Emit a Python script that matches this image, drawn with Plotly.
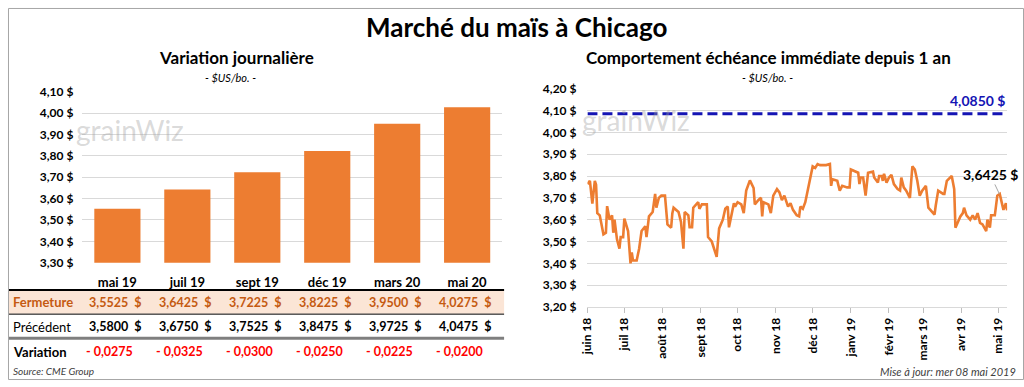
import plotly.graph_objects as go

W, H = 1024, 387
FONT = "Lato, 'Liberation Sans', sans-serif"

# ---------------- data ----------------
contracts = ["mai 19", "juil 19", "sept 19", "déc 19", "mars 20", "mai 20"]
fermeture = [3.5525, 3.6425, 3.7225, 3.8225, 3.9500, 4.0275]
precedent = [3.5800, 3.6750, 3.7525, 3.8475, 3.9725, 4.0475]
variation = [-0.0275, -0.0325, -0.0300, -0.0250, -0.0225, -0.0200]

hist_dates = [
    "2018-06-01", "2018-06-03", "2018-06-05", "2018-06-07", "2018-06-08", "2018-06-09", "2018-06-11",
    "2018-06-14", "2018-06-16", "2018-06-17", "2018-06-19", "2018-06-21", "2018-06-22", "2018-06-23",
    "2018-06-25", "2018-06-27", "2018-06-28", "2018-06-30", "2018-07-01", "2018-07-04", "2018-07-06",
    "2018-07-07", "2018-07-08", "2018-07-11", "2018-07-13", "2018-07-15", "2018-07-18", "2018-07-19",
    "2018-07-21", "2018-07-24", "2018-07-26", "2018-07-27", "2018-07-29", "2018-07-31", "2018-08-03",
    "2018-08-05", "2018-08-08", "2018-08-09", "2018-08-10", "2018-08-14", "2018-08-16", "2018-08-18",
    "2018-08-19", "2018-08-22", "2018-08-23", "2018-08-25", "2018-08-26", "2018-08-30", "2018-08-31",
    "2018-09-02", "2018-09-06", "2018-09-07", "2018-09-10", "2018-09-12", "2018-09-14", "2018-09-16",
    "2018-09-19", "2018-09-21", "2018-09-23", "2018-09-24", "2018-09-26", "2018-09-28", "2018-09-29",
    "2018-10-01", "2018-10-04", "2018-10-06", "2018-10-08", "2018-10-11", "2018-10-14", "2018-10-15",
    "2018-10-18", "2018-10-20", "2018-10-21", "2018-10-22", "2018-10-26", "2018-10-28", "2018-10-30",
    "2018-11-02", "2018-11-04", "2018-11-06", "2018-11-08", "2018-11-10", "2018-11-11", "2018-11-13",
    "2018-11-15", "2018-11-18", "2018-11-20", "2018-11-21", "2018-11-23", "2018-11-25", "2018-11-27",
    "2018-11-29", "2018-12-01", "2018-12-03", "2018-12-05", "2018-12-07", "2018-12-09", "2018-12-12",
    "2018-12-15", "2018-12-16", "2018-12-17", "2018-12-21", "2018-12-23", "2018-12-25", "2018-12-29",
    "2018-12-31", "2019-01-01", "2019-01-04", "2019-01-07", "2019-01-08", "2019-01-09", "2019-01-11",
    "2019-01-13", "2019-01-15", "2019-01-19", "2019-01-20", "2019-01-23", "2019-01-24", "2019-01-26",
    "2019-01-27", "2019-01-28", "2019-01-30", "2019-02-01", "2019-02-03", "2019-02-05", "2019-02-08",
    "2019-02-10", "2019-02-11", "2019-02-13", "2019-02-15", "2019-02-18", "2019-02-20", "2019-02-22",
    "2019-02-24", "2019-02-26", "2019-02-28", "2019-03-03", "2019-03-05", "2019-03-07", "2019-03-10",
    "2019-03-11", "2019-03-13", "2019-03-17", "2019-03-18", "2019-03-20", "2019-03-24", "2019-03-26",
    "2019-03-27", "2019-03-31", "2019-04-02", "2019-04-03", "2019-04-05", "2019-04-08", "2019-04-10",
    "2019-04-12", "2019-04-14", "2019-04-16", "2019-04-18", "2019-04-21", "2019-04-22", "2019-04-24",
    "2019-04-25", "2019-04-28", "2019-04-30", "2019-05-02", "2019-05-04", "2019-05-05", "2019-05-07",
    "2019-05-08",
]
hist_values = [
    3.763, 3.778, 3.674, 3.778, 3.760, 3.630, 3.620,
    3.533, 3.540, 3.662, 3.600, 3.620, 3.540, 3.600,
    3.510, 3.467, 3.520, 3.520, 3.605, 3.548, 3.400,
    3.450, 3.413, 3.413, 3.467, 3.548, 3.570, 3.520,
    3.615, 3.635, 3.718, 3.655, 3.700, 3.710, 3.710,
    3.578, 3.563, 3.630, 3.655, 3.635, 3.590, 3.467,
    3.635, 3.620, 3.565, 3.565, 3.655, 3.680, 3.650,
    3.670, 3.670, 3.520, 3.500, 3.465, 3.430, 3.560,
    3.600, 3.650, 3.660, 3.565, 3.630, 3.675, 3.660,
    3.680, 3.670, 3.630, 3.733, 3.780, 3.745, 3.670,
    3.690, 3.700, 3.615, 3.680, 3.670, 3.630, 3.710,
    3.740, 3.725, 3.690, 3.710, 3.670, 3.660, 3.675,
    3.645, 3.620, 3.615, 3.660, 3.650, 3.680, 3.733,
    3.793, 3.844, 3.837, 3.855, 3.850, 3.850, 3.850,
    3.855, 3.755, 3.785, 3.778, 3.733, 3.755, 3.748,
    3.748, 3.830, 3.822, 3.815, 3.763, 3.793, 3.793,
    3.710, 3.815, 3.820, 3.793, 3.770, 3.800, 3.800,
    3.778, 3.810, 3.770, 3.793, 3.805, 3.763, 3.740,
    3.733, 3.793, 3.748, 3.733, 3.700, 3.844, 3.830,
    3.778, 3.710, 3.733, 3.755, 3.655, 3.640, 3.623,
    3.665, 3.733, 3.718, 3.718, 3.778, 3.800, 3.740,
    3.563, 3.615, 3.630, 3.655, 3.620, 3.600, 3.620,
    3.600, 3.630, 3.585, 3.578, 3.548, 3.600, 3.563,
    3.620, 3.620, 3.710, 3.718, 3.665, 3.645, 3.675,
    3.6425,
]
target_price = 4.0850

month_ticks = ["2018-06-01", "2018-07-01", "2018-08-01", "2018-09-01", "2018-10-01", "2018-11-01",
               "2018-12-01", "2019-01-01", "2019-02-01", "2019-03-01", "2019-04-01", "2019-05-01"]
month_labels = ["juin 18", "juil 18", "août 18", "sept 18", "oct 18", "nov 18",
                "déc 18", "janv 19", "févr 19", "mars 19", "avr 19", "mai 19"]

ORANGE = "#ED7D31"
DARK_ORANGE = "#C55A11"
BLUE = "#1414B4"
GRID = "#D9D9D9"


def px(x):
    return x / W


def py(y):
    return 1 - y / H


def fr(v):
    return f"{v:.4f}".replace(".", ",")


fig = go.Figure()

fig.add_trace(go.Bar(x=contracts, y=fermeture, marker=dict(color=ORANGE, line=dict(width=0)),
                     xaxis="x", yaxis="y", showlegend=False, hoverinfo="skip"))

fig.add_trace(go.Scatter(x=hist_dates, y=hist_values, mode="lines",
                         line=dict(color=ORANGE, width=2.6), xaxis="x2", yaxis="y2",
                         showlegend=False, hoverinfo="skip"))

fig.add_trace(go.Scatter(x=[hist_dates[0], hist_dates[-1]], y=[target_price, target_price], mode="lines",
                         line=dict(color=BLUE, width=3, dash="10px,5px"), xaxis="x2", yaxis="y2",
                         showlegend=False, hoverinfo="skip"))

tickfont = dict(family=FONT, size=12, color="#000000", weight="bold")

fig.update_layout(
    width=W, height=H, margin=dict(l=0, r=0, t=0, b=0),
    paper_bgcolor="white", plot_bgcolor="white",
    separators=", ",
    bargap=0.34,
    font=dict(family=FONT, color="#000000"),
    xaxis=dict(domain=[px(75), px(498)], type="category", showgrid=False, zeroline=False,
               showline=False, ticks="", tickfont=dict(family=FONT, size=13, color="#000000", weight="bold"),
               ticklabelstandoff=10, fixedrange=True),
    yaxis=dict(domain=[py(265), py(87)], range=[3.30, 4.10], dtick=0.1, tickformat=".2f",
               ticksuffix=" $", showgrid=True, gridcolor=GRID, gridwidth=1, zeroline=False,
               tickfont=tickfont, ticklabelstandoff=8, fixedrange=True),
    xaxis2=dict(domain=[px(584), px(1007)], type="date", range=["2018-06-01", "2019-05-08"],
                tickvals=month_ticks, ticktext=month_labels, tickangle=-90, showgrid=False,
                showline=True, linecolor=GRID, linewidth=1, ticks="outside", ticklen=5,
                tickcolor="#BFBFBF", tickfont=tickfont, anchor="y2", fixedrange=True),
    yaxis2=dict(domain=[py(311), py(84)], range=[3.20, 4.20], dtick=0.1, tickformat=".2f",
                ticksuffix=" $", showgrid=True, gridcolor=GRID, gridwidth=1, zeroline=False,
                tickfont=tickfont, ticklabelstandoff=10, anchor="x2", fixedrange=True),
)

shapes = []
# outer border
shapes.append(dict(type="rect", xref="paper", yref="paper", x0=px(0.5), x1=px(1023.5), y0=py(386.5), y1=py(0.5),
                   line=dict(color="#A6A6A6", width=1), fillcolor="rgba(0,0,0,0)", layer="above"))
# table
shapes.append(dict(type="rect", xref="paper", yref="paper", x0=px(1), x1=px(500), y0=py(318), y1=py(294),
                   line=dict(width=0), fillcolor="#FBE5D6", layer="below"))
shapes.append(dict(type="line", xref="paper", yref="paper", x0=px(1), x1=px(500), y0=py(293.5), y1=py(293.5),
                   line=dict(color="#000000", width=2)))
shapes.append(dict(type="line", xref="paper", yref="paper", x0=px(1), x1=px(500), y0=py(318.5), y1=py(318.5),
                   line=dict(color="#000000", width=1)))
shapes.append(dict(type="line", xref="paper", yref="paper", x0=px(1), x1=px(500), y0=py(343.5), y1=py(343.5),
                   line=dict(color="#7F7F7F", width=3)))
fig.update_layout(shapes=shapes)

ann = []


def text(x, y, s, size, color="#000000", bold=False, italic=False, xanchor="center", **kw):
    ann.append(dict(x=x, y=y, xref="paper", yref="paper", text=s, showarrow=False, xanchor=xanchor,
                    yanchor="middle",
                    font=dict(family=FONT, size=size, color=color, weight="bold" if bold else "normal",
                              style="italic" if italic else "normal"), **kw))


text(px(512), py(20), "Marché du maïs à Chicago", 26, bold=True)
text(px(230), py(52), "Variation journalière", 17, bold=True)
text(px(224), py(72), "- $US/bo. -", 11, italic=True)
text(px(766), py(52), "Comportement échéance immédiate depuis 1 an", 17, bold=True)
text(px(765), py(72), "- $US/bo. -", 11, italic=True)

# watermarks
text(px(123), py(127), "grainWiz", 28, color="rgba(160,160,160,0.4)")
text(px(633), py(117), "grainWiz", 28, color="rgba(160,160,160,0.4)")

# table rows
text(px(3), py(306), "Fermeture", 13, color=DARK_ORANGE, bold=True, xanchor="left")
text(px(3), py(331.5), "Précédent", 13, xanchor="left")
text(px(3), py(357.5), "Variation", 13, bold=True, xanchor="left")
for c, f, p, v in zip(contracts, fermeture, precedent, variation):
    ann.append(dict(x=c, y=py(306), xref="x", yref="paper", text=fr(f) + "&nbsp;&nbsp;$", showarrow=False,
                    xanchor="center", yanchor="middle", xshift=-2,
                    font=dict(family=FONT, size=12.5, color=DARK_ORANGE, weight="bold")))
    ann.append(dict(x=c, y=py(331.5), xref="x", yref="paper", text=fr(p) + "&nbsp;&nbsp;$", showarrow=False,
                    xanchor="center", yanchor="middle", xshift=-2,
                    font=dict(family=FONT, size=12.5, color="#000000", weight="bold")))
    ann.append(dict(x=c, y=py(357.5), xref="x", yref="paper", xshift=-8,
                    text=("- " if v < 0 else "") + fr(abs(v)), showarrow=False,
                    xanchor="center", yanchor="middle",
                    font=dict(family=FONT, size=12.5, color="#FF0000", weight="bold")))

# right chart labels
ann.append(dict(x=hist_dates[-1], y=target_price, xref="x2", yref="y2", text=fr(target_price) + " $",
                showarrow=False, xanchor="right", yanchor="bottom", yshift=3,
                font=dict(family=FONT, size=14, color=BLUE, weight="bold")))
ann.append(dict(x=hist_dates[-1], y=hist_values[-1], xref="x2", yref="y2", text=fr(hist_values[-1]) + " $",
                showarrow=True, arrowhead=0, arrowwidth=1, arrowcolor="#A6A6A6", ax=-17, ay=-36,
                standoff=18, font=dict(family=FONT, size=14, color="#000000", weight="bold")))

# footers
text(px(3), py(378), "Source: CME Group", 10, color="#404040", italic=True, xanchor="left")
text(px(1018), py(378), "Mise à jour: mer 08 mai 2019", 11, color="#404040", italic=True, xanchor="right")

fig.update_layout(annotations=ann)
fig.write_html("out.html", config={"displayModeBar": False},
               post_script="document.body.style.margin='0';document.body.style.overflow='hidden';")
